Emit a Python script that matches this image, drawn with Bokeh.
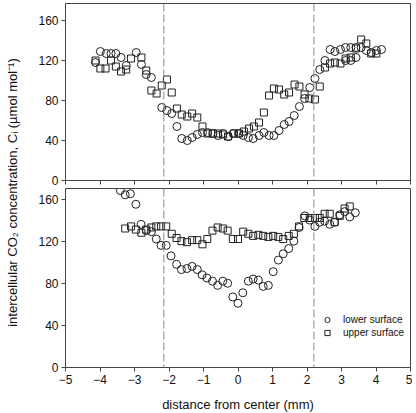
import numpy as np
from bokeh.plotting import figure
from bokeh.models import Span, Label, Legend, LegendItem, FixedTicker, Range1d
from bokeh.layouts import row, column
from bokeh.embed import file_html
from bokeh.resources import INLINE

# ---------------- data ----------------
x_ticks = [-5, -4, -3, -2, -1, 0, 1, 2, 3, 4, 5]
y_ticks = [0, 40, 80, 120, 160]
boundaries = [-2.15, 2.2]

# top panel, lower surface (circles)
top_lower_x = [-4.13, -3.99, -3.82, -3.68, -3.54, -3.39, -3.24, -2.95, -2.80, -2.66,
               -2.51, -2.21, -2.06, -1.92, -1.77, -1.63, -1.47, -1.33, -1.18, -1.03,
               -0.88, -0.73, -0.58, -0.43, -0.28, -0.14, 0.01, 0.15, 0.30, 0.44,
               0.61, 0.75, 0.90, 1.04, 1.19, 1.34, 1.48, 1.63, 1.78, 1.93,
               2.08, 2.23, 2.37, 2.52, 2.67, 2.81, 2.97, 3.12, 3.27, 3.42,
               3.57, 3.72, 3.86, 4.01, 4.16, 3.12, 3.27, 3.42]
top_lower_y = [118, 129, 127, 127, 127, 123, 115, 128, 116, 106,
               103, 73, 70, 67, 54, 42, 40, 43, 46, 48,
               48, 47, 45, 47, 44, 47, 47, 45, 43, 42,
               45, 48, 45, 45, 50, 56, 59, 65, 74, 82,
               93, 102, 111, 120, 131, 129, 131, 133, 133, 133,
               133, 130, 128, 130, 131, 120, 120, 123]

# top panel, upper surface (squares)
top_upper_x = [-4.13, -3.99, -3.84, -3.68, -3.54, -3.39, -3.24, -3.10, -2.80, -2.66,
               -2.51, -2.36, -2.21, -2.06, -1.92, -1.77, -1.63, -1.47, -1.33, -1.18,
               -1.03, -0.88, -0.73, -0.58, -0.43, -0.29, -0.12, 0.03, 0.17, 0.32,
               0.46, 0.61, 0.75, 0.90, 1.04, 1.19, 1.34, 1.48, 1.64, 1.78,
               1.93, 2.07, 2.23, 2.37, 2.52, 2.67, 2.81, 2.97, 3.12, 3.27,
               3.42, 3.57, 3.72, 3.86, 4.01]
top_upper_y = [120, 112, 112, 120, 114, 109, 111, 122, 123, 110,
               90, 87, 95, 101, 88, 72, 66, 64, 67, 63,
               54, 47, 47, 47, 46, 44, 47, 47, 49, 52,
               54, 58, 68, 85, 92, 91, 86, 88, 96, 94,
               86, 82, 81, 94, 113, 117, 118, 117, 122, 123,
               132, 141, 137, 127, 127]

# bottom panel, lower surface (circles)
bot_lower_x = [-3.41, -3.27, -3.12, -2.96, -2.81, -2.66, -2.51, -2.37, -2.23, -2.08,
               -1.94, -1.78, -1.64, -1.48, -1.33, -1.18, -1.04, -0.90, -0.74, -0.59,
               -0.44, -0.30, -0.15, 0.00, 0.14, 0.30, 0.44, 0.59, 0.73, 0.88,
               1.02, 1.17, 1.31, 1.47, 1.62, 1.77, 1.94, 2.08, 2.23, 2.37,
               2.51, 2.66, 2.80, 2.95, 3.09, 3.24, 3.40]
bot_lower_y = [168, 164, 165, 155, 136, 130, 129, 122, 116, 116,
               106, 98, 93, 94, 96, 93, 88, 85, 82, 78,
               82, 80, 67, 61, 71, 82, 84, 83, 77, 78,
               91, 102, 108, 113, 120, 133, 144, 140, 134, 138,
               139, 136, 138, 145, 148, 143, 147]

# bottom panel, upper surface (squares)
bot_upper_x = [-3.27, -3.10, -2.96, -2.80, -2.66, -2.51, -2.37, -2.23, -2.08,
               -1.92, -1.78, -1.64, -1.48, -1.33, -1.18, -1.03, -0.89, -0.74, -0.59,
               -0.44, -0.30, -0.15, 0.00,
               0.15, 0.30, 0.44, 0.59, 0.73, 0.88, 1.02, 1.17, 1.31, 1.47, 1.62,
               1.77, 1.92, 2.08, 2.23, 2.37, 2.51, 2.66, 2.80, 2.95, 3.09, 3.24]
bot_upper_y = [132, 134, 131, 128, 131, 133, 134, 134, 134,
               127, 123, 120, 119, 121, 121, 117, 122, 130, 133,
               132, 130, 122, 122,
               129, 127, 125, 126, 125, 124, 125, 124, 122, 125, 127,
               134, 142, 142, 142, 142, 146, 146, 138, 144, 151, 153]

FONT = "Liberation Sans"
EDGE = "#444444"
MK = "#222222"


def make_panel(ymax, frame_h, show_xlabels, min_top, min_bottom):
    p = figure(output_backend="svg", toolbar_location=None,
               frame_width=345, frame_height=frame_h,
               x_range=Range1d(-5, 5), y_range=Range1d(0, ymax),
               min_border_left=35, min_border_right=2,
               min_border_top=min_top, min_border_bottom=min_bottom)
    p.xgrid.visible = False
    p.ygrid.visible = False
    p.outline_line_color = EDGE
    p.outline_line_width = 1
    p.background_fill_color = "white"
    p.border_fill_color = "white"

    xa = p.xaxis[0]
    xa.ticker = FixedTicker(ticks=x_ticks)
    xa.axis_line_color = EDGE
    xa.major_tick_line_color = EDGE
    xa.major_tick_out = 4
    xa.major_tick_in = 0
    xa.minor_tick_line_color = None
    xa.major_label_text_font = FONT
    xa.major_label_text_color = "#111111"
    xa.major_label_text_font_size = "12px"
    if show_xlabels:
        xa.major_label_standoff = 3
        xa.axis_label = "distance from center (mm)"
        xa.axis_label_text_font = FONT
        xa.axis_label_text_font_size = "13px"
        xa.axis_label_text_font_style = "normal"
        xa.axis_label_text_color = "#111111"
        xa.axis_label_standoff = 10
    else:
        xa.major_label_overrides = {t: "" for t in x_ticks}
        xa.major_label_standoff = 0

    ya = p.yaxis[0]
    ya.ticker = FixedTicker(ticks=y_ticks)
    ya.axis_line_color = EDGE
    ya.major_tick_line_color = EDGE
    ya.major_tick_out = 4
    ya.major_tick_in = 0
    ya.minor_tick_line_color = None
    ya.major_label_text_font = FONT
    ya.major_label_text_font_size = "12px"
    ya.major_label_text_color = "#111111"
    ya.major_label_standoff = 3

    for b in boundaries:
        p.add_layout(Span(location=b, dimension="height", line_color="#8a8a8a",
                          line_dash="8 3", line_width=1))
    return p


top = make_panel(177, 177, False, 3, 7)
bottom = make_panel(170, 179, True, 1, 42)

top.scatter(top_lower_x, top_lower_y, marker="circle", size=8, fill_color=None,
            line_color=MK, line_width=1)
top.scatter(top_upper_x, top_upper_y, marker="square", size=7, fill_color=None,
            line_color=MK, line_width=1)

c = bottom.scatter(bot_lower_x, bot_lower_y, marker="circle", size=8, fill_color=None,
                   line_color=MK, line_width=1)
s = bottom.scatter(bot_upper_x, bot_upper_y, marker="square", size=7, fill_color=None,
                   line_color=MK, line_width=1)

legend = Legend(items=[LegendItem(label="lower surface", renderers=[c]),
                       LegendItem(label="upper surface", renderers=[s])],
                location=(255, 28))
legend.background_fill_alpha = 0
legend.border_line_color = None
legend.padding = 0
legend.margin = 0
legend.spacing = 0
legend.glyph_width = 14
legend.glyph_height = 13
legend.label_height = 13
legend.label_standoff = 9
legend.label_text_font = FONT
legend.label_text_font_size = "10px"
legend.label_text_color = "#111111"
bottom.add_layout(legend)

# shared y-axis title in a narrow side figure
TH = 410
side = figure(output_backend="svg", toolbar_location=None, width=30, height=TH,
              x_range=Range1d(0, 30), y_range=Range1d(0, TH), min_border=0)
side.axis.visible = False
side.grid.visible = False
side.outline_line_color = None
side.add_layout(Label(x=12, y=TH - 192, text="intercellular CO₂ concentration, Cᵢ (µmol mol⁻¹)",
                      angle=np.pi / 2, text_align="center", text_baseline="middle",
                      text_font=FONT, text_font_size="13px", text_color="#111111"))

layout = row(side, column(top, bottom))

open("out.html", "w").write(file_html(layout, INLINE))
